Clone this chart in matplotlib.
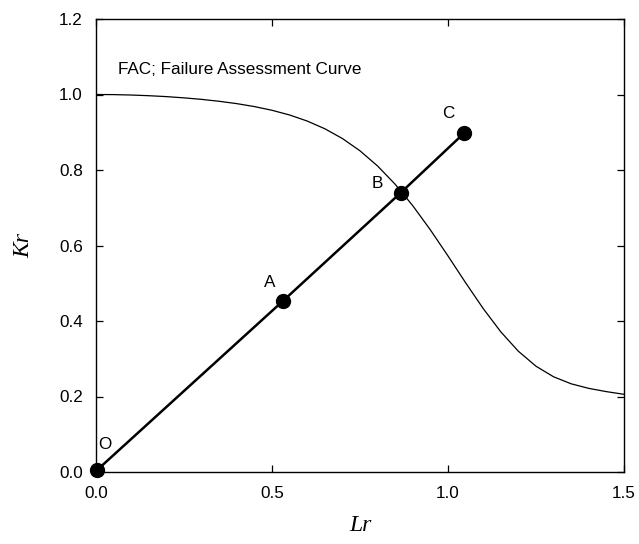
import matplotlib
matplotlib.use("Agg")
import matplotlib.pyplot as plt

# Failure assessment curve
fac_lr = [0.00, 0.05, 0.10, 0.15, 0.20, 0.25, 0.30, 0.35, 0.40, 0.45, 0.50,
          0.55, 0.60, 0.65, 0.70, 0.75, 0.80, 0.85, 0.90, 0.95, 1.00,
          1.05, 1.10, 1.15, 1.20, 1.25, 1.30, 1.35, 1.40, 1.45, 1.50]
fac_kr = [1.000, 0.9997, 0.9986, 0.9968, 0.9944, 0.9911, 0.9871, 0.9820, 0.9758, 0.9680, 0.9582,
          0.9457, 0.9297, 0.9093, 0.8834, 0.8508, 0.8106, 0.7621, 0.7053, 0.6413, 0.5723,
          0.5014, 0.4330, 0.3713, 0.3198, 0.2802, 0.2522, 0.2336, 0.2215, 0.2129, 0.2058]

# Loading path points
point_names = ["O", "A", "B", "C"]
point_lr = [0.004, 0.531, 0.866, 1.045]
point_kr = [0.006, 0.453, 0.740, 0.897]

x_ticks = [0.0, 0.5, 1.0, 1.5]
x_ticklabels = ["0.0", "0.5", "1.0", "1.5"]
y_ticks = [0.0, 0.2, 0.4, 0.6, 0.8, 1.0, 1.2]
y_ticklabels = ["0.0", "0.2", "0.4", "0.6", "0.8", "1.0", "1.2"]

sans = ["Liberation Sans", "DejaVu Sans"]
serif = ["Liberation Serif", "DejaVu Serif"]

fig = plt.figure(figsize=(6.39, 5.44), dpi=100)
ax = fig.add_axes([96 / 639, (544 - 472) / 544, (624 - 96) / 639, (472 - 19) / 544])

ax.plot(fac_lr, fac_kr, color="black", linewidth=0.9)
ax.plot(point_lr, point_kr, color="black", linewidth=1.8, marker="o",
        markersize=10, markerfacecolor="black", markeredgecolor="black", clip_on=False, zorder=3)

# label positions relative to each point (in data units)
label_offsets = {"O": (0.022, 0.066), "A": (-0.037, 0.050), "B": (-0.068, 0.025), "C": (-0.045, 0.052)}
for name, lx, ky in zip(point_names, point_lr, point_kr):
    dx, dy = label_offsets[name]
    ax.text(lx + dx, ky + dy, name, fontsize=12.3, family=sans,
            ha="center", va="center")

ax.text(0.062, 1.067, "FAC; Failure Assessment Curve", fontsize=12.3, family=sans,
        ha="left", va="center")

ax.set_xlim(0, 1.5)
ax.set_ylim(0, 1.2)
ax.set_xticks(x_ticks)
ax.set_xticklabels(x_ticklabels, family=sans, fontsize=12.3)
ax.set_yticks(y_ticks)
ax.set_yticklabels(y_ticklabels, family=sans, fontsize=12.3)
ax.tick_params(direction="in", top=True, right=True, length=5, width=0.9)
ax.tick_params(axis="y", pad=9.5)
ax.tick_params(axis="x", pad=10)
for s in ax.spines.values():
    s.set_linewidth(1.0)

ax.set_xlabel("Lr", family=serif, style="italic", fontsize=17, labelpad=10)
ax.set_ylabel("Kr", family=serif, style="italic", fontsize=17, labelpad=18)

fig.savefig("out.png", dpi=100)
